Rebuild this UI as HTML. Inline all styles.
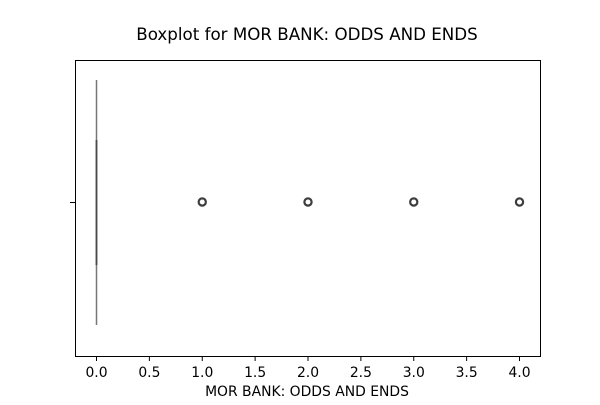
<!DOCTYPE html>
<html><head><meta charset="utf-8"><style>body{margin:0;background:#fff}svg{font-family:"DejaVu Sans","Liberation Sans",sans-serif}</style></head>
<body>
<svg id="c" width="600" height="400" xmlns="http://www.w3.org/2000/svg"></svg>
<script>
const xTicks=[0,0.5,1,1.5,2,2.5,3,3.5,4];
const xTickLabels=["0.0","0.5","1.0","1.5","2.0","2.5","3.0","3.5","4.0"];
const quartiles=[0,0,0];
const whiskers=[0,0];
const outliers=[1,2,3,4];
const svg=document.getElementById('c');
const NS="http://www.w3.org/2000/svg";
function x(v){return 96.5+v*105.75;}
const yC=202;
function mk(t,a,p){const e=document.createElementNS(NS,t);for(const k in a)e.setAttribute(k,a[k]);(p||svg).appendChild(e);return e;}
let t=mk('text',{x:307,y:40,'text-anchor':'middle','font-size':16.7,fill:'#000'});


t.textContent='Boxplot for MOR BANK: ODDS AND ENDS';
let w=mk('line',{x1:x(whiskers[0]),x2:x(whiskers[1]),y1:80,y2:325,stroke:'#777',"stroke-width":1.5});


let b=mk('rect',{x:x(quartiles[0])-0.9,y:140,width:Math.max(1.8,x(quartiles[2])-x(quartiles[0])+1.8),height:125,fill:'#4a4a4a'});


outliers.forEach(v=>{const c=mk('circle',{cx:x(v),cy:yC,r:3.6,fill:'none',stroke:'#3d3d3d','stroke-width':2.2});

});
let ax=mk('rect',{x:75.5,y:60.5,width:465,height:296,fill:'none',stroke:'#000','stroke-width':1});


xTicks.forEach((v,i)=>{mk('line',{x1:x(v),x2:x(v),y1:356,y2:361,stroke:'#000'});
const l=mk('text',{x:x(v),y:377,'text-anchor':'middle','font-size':13.9,fill:'#000'});


l.textContent=xTickLabels[i];});
mk('line',{x1:70,x2:75,y1:yC+0.5,y2:yC+0.5,stroke:'#000'});
let xt=mk('text',{x:307,y:396,'text-anchor':'middle','font-size':13.9,fill:'#000'});


xt.textContent='MOR BANK: ODDS AND ENDS';
</script>
</body></html>
